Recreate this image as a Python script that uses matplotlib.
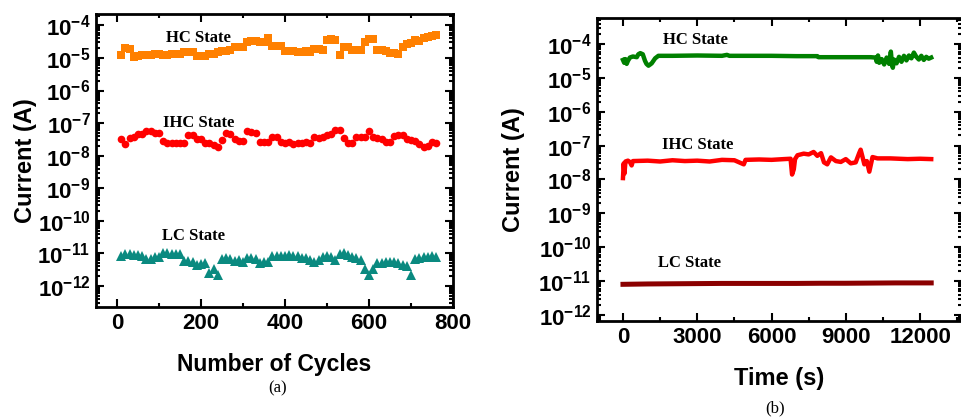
import numpy as np
import matplotlib
matplotlib.use("Agg")
import matplotlib.pyplot as plt
from matplotlib.ticker import LogLocator, MultipleLocator, NullFormatter

plt.rcParams["font.family"] = ["Liberation Sans", "DejaVu Sans"]
plt.rcParams["font.weight"] = "bold"
plt.rcParams["axes.labelweight"] = "bold"
plt.rcParams["mathtext.default"] = "regular"

# ---- (a) endurance: current vs number of cycles ----
ciclos = np.arange(10, 770, 10)

corriente_hc = [
    1.2e-5, 2.0e-5, 1.9e-5, 1.1e-5, 1.15e-5, 1.2e-5, 1.25e-5, 1.25e-5, 1.3e-5, 1.3e-5,
    1.2e-5, 1.25e-5, 1.35e-5, 1.35e-5, 1.35e-5, 1.55e-5, 1.55e-5, 1.55e-5, 1.15e-5, 1.15e-5,
    1.15e-5, 1.3e-5, 1.35e-5, 1.55e-5, 1.6e-5, 1.6e-5, 1.8e-5, 2.2e-5, 2.2e-5, 2.2e-5,
    3.2e-5, 3.4e-5, 3.4e-5, 3.1e-5, 3.1e-5, 4.0e-5, 2.4e-5, 2.4e-5, 2.3e-5, 1.6e-5,
    1.6e-5, 1.6e-5, 1.55e-5, 1.55e-5, 1.6e-5, 1.55e-5, 1.85e-5, 1.85e-5, 1.8e-5, 3.6e-5,
    3.8e-5, 3.6e-5, 1.25e-5, 2.2e-5, 2.1e-5, 1.8e-5, 1.75e-5, 1.75e-5, 3.0e-5, 3.8e-5,
    3.8e-5, 1.7e-5, 1.7e-5, 1.65e-5, 1.45e-5, 1.4e-5, 1.35e-5, 2.2e-5, 2.7e-5, 2.8e-5,
    3.6e-5, 3.3e-5, 4.0e-5, 4.4e-5, 4.7e-5, 4.9e-5,
]

corriente_ihc = [
    3.2e-8, 2.3e-8, 3.4e-8, 3.6e-8, 4.5e-8, 4.6e-8, 5.8e-8, 5.6e-8, 5.0e-8, 5.0e-8,
    2.8e-8, 2.5e-8, 2.45e-8, 2.4e-8, 2.45e-8, 2.45e-8, 4.4e-8, 4.2e-8, 3.2e-8, 3.3e-8,
    2.5e-8, 2.4e-8, 2.1e-8, 1.85e-8, 3.0e-8, 4.8e-8, 4.5e-8, 3.2e-8, 2.8e-8, 2.75e-8,
    5.6e-8, 5.4e-8, 5.0e-8, 2.6e-8, 2.6e-8, 2.7e-8, 3.8e-8, 3.8e-8, 2.6e-8, 2.5e-8,
    2.6e-8, 2.3e-8, 2.4e-8, 2.5e-8, 2.6e-8, 2.4e-8, 3.6e-8, 3.4e-8, 3.6e-8, 4.2e-8,
    4.6e-8, 6.2e-8, 6.0e-8, 3.5e-8, 2.5e-8, 2.4e-8, 3.8e-8, 3.6e-8, 3.7e-8, 5.6e-8,
    3.6e-8, 3.5e-8, 3.3e-8, 2.7e-8, 2.6e-8, 4.0e-8, 4.4e-8, 4.2e-8, 3.2e-8, 3.0e-8,
    2.9e-8, 2.2e-8, 1.9e-8, 2.0e-8, 2.7e-8, 2.5e-8,
]

corriente_lc = [
    8.5e-12, 9.5e-12, 9.5e-12, 9.0e-12, 9.0e-12, 8.5e-12, 6.5e-12, 6.5e-12, 7.5e-12, 7.5e-12,
    1.0e-11, 1.0e-11, 9.5e-12, 9.5e-12, 9.5e-12, 5.8e-12, 5.8e-12, 5.5e-12, 4.5e-12, 4.8e-12,
    5.0e-12, 2.5e-12, 3.3e-12, 2.1e-12, 6.5e-12, 7.0e-12, 6.8e-12, 5.8e-12, 6.0e-12, 5.5e-12,
    7.0e-12, 7.0e-12, 6.5e-12, 5.2e-12, 5.5e-12, 5.5e-12, 8.0e-12, 8.5e-12, 8.5e-12, 8.5e-12,
    8.8e-12, 8.5e-12, 8.0e-12, 7.0e-12, 7.0e-12, 6.0e-12, 5.5e-12, 6.0e-12, 7.5e-12, 8.5e-12,
    7.5e-12, 6.0e-12, 9.5e-12, 1.0e-11, 9.0e-12, 7.5e-12, 7.0e-12, 6.0e-12, 3.3e-12, 2.1e-12,
    3.3e-12, 5.0e-12, 5.0e-12, 5.5e-12, 5.5e-12, 5.5e-12, 5.0e-12, 4.5e-12, 4.0e-12, 2.1e-12,
    6.5e-12, 7.0e-12, 7.5e-12, 7.5e-12, 8.0e-12, 7.5e-12,
]

# ---- (b) retention: current vs time ----
tiempo_hc = [
    0, 50, 100, 150, 200, 280, 400, 560, 620, 700, 800, 890, 950, 1030, 1100, 1160,
    1300, 1430, 2000, 3000, 4000, 4200, 4300, 5000, 6000, 7000, 7850, 7900, 9000,
    10000, 10200, 10250, 10300, 10350, 10450, 10550, 10650, 10750, 10820, 10870,
    10900, 10950, 11050, 11150, 11250, 11350, 11450, 11550, 11650, 11750, 11850,
    11950, 12050, 12150, 12250, 12350, 12450,
]
ret_hc = [
    3.4e-5, 2.8e-5, 3.6e-5, 2.6e-5, 3.2e-5, 4.0e-5, 4.3e-5, 4.1e-5, 5.0e-5, 5.4e-5,
    5.0e-5, 3.2e-5, 2.6e-5, 2.3e-5, 2.5e-5, 2.7e-5, 3.8e-5, 4.5e-5, 4.5e-5, 4.6e-5,
    4.5e-5, 4.8e-5, 4.5e-5, 4.5e-5, 4.5e-5, 4.4e-5, 4.4e-5, 4.1e-5, 4.1e-5, 4.1e-5,
    4.0e-5, 3.0e-5, 4.6e-5, 2.8e-5, 3.6e-5, 2.5e-5, 4.0e-5, 2.6e-5, 6.0e-5, 2.4e-5,
    2.0e-5, 3.5e-5, 2.7e-5, 4.2e-5, 3.0e-5, 4.5e-5, 3.3e-5, 4.6e-5, 3.8e-5, 5.6e-5,
    4.2e-5, 3.5e-5, 4.5e-5, 3.4e-5, 4.2e-5, 3.7e-5, 4.0e-5,
]

tiempo_ihc = [
    0, 30, 60, 100, 200, 280, 350, 400, 1000, 1500, 2000, 2500, 3000, 3500, 4000,
    4500, 4880, 4950, 5500, 6000, 6500, 6770, 6830, 6900, 6950, 7050, 7300, 7500,
    7700, 7850, 8000, 8120, 8250, 8400, 8600, 8800, 9000, 9200, 9400, 9540, 9600,
    9680, 9750, 9850, 9950, 10080, 10280, 10800, 11500, 12000, 12450,
]
ret_ihc = [
    1.1e-8, 3.0e-8, 1.5e-8, 3.4e-8, 3.6e-8, 3.3e-8, 2.6e-8, 3.5e-8, 3.6e-8, 3.4e-8,
    3.7e-8, 3.5e-8, 3.6e-8, 3.4e-8, 3.8e-8, 3.7e-8, 2.8e-8, 3.8e-8, 3.9e-8, 3.8e-8,
    4.0e-8, 4.1e-8, 1.4e-8, 2.0e-8, 4.0e-8, 5.2e-8, 5.8e-8, 5.5e-8, 6.5e-8, 5.0e-8,
    6.0e-8, 3.2e-8, 2.8e-8, 4.5e-8, 3.5e-8, 3.3e-8, 4.0e-8, 3.0e-8, 3.2e-8, 6.0e-8,
    7.6e-8, 4.5e-8, 2.8e-8, 3.5e-8, 1.7e-8, 4.6e-8, 4.2e-8, 4.2e-8, 4.0e-8, 4.1e-8,
    4.0e-8,
]

tiempo_lc = [0, 1000, 2000, 3000, 4000, 5000, 6000, 7000, 8000, 9000, 10000, 11000, 12000, 12450]
ret_lc = [8.0e-12, 8.2e-12, 8.3e-12, 8.4e-12, 8.5e-12, 8.5e-12, 8.5e-12, 8.5e-12,
          8.6e-12, 8.6e-12, 8.7e-12, 8.8e-12, 8.8e-12, 8.8e-12]


def formato_ejes(ax):
    ax.set_yscale("log")
    ax.yaxis.set_major_locator(LogLocator(base=10, numticks=30))
    ax.yaxis.set_minor_locator(LogLocator(base=10, subs=np.arange(2, 10), numticks=60))
    ax.yaxis.set_minor_formatter(NullFormatter())
    ax.tick_params(which="both", direction="in", top=True, right=True,
                   labelsize=16, width=1.5)
    ax.tick_params(which="major", length=6, pad=4)
    ax.tick_params(which="minor", length=3)
    for s in ax.spines.values():
        s.set_linewidth(2)


fig = plt.figure(figsize=(9.61, 4.18), dpi=100)

# panel (a)
ax1 = fig.add_axes([0.0999, 0.2656, 0.3715, 0.7009])
ax1.plot(ciclos, corriente_hc, "s", color="#ff8000", markersize=5.5, markeredgewidth=0)
ax1.plot(ciclos, corriente_ihc, "o", color="#ff0000", markersize=5.5, markeredgewidth=0)
ax1.plot(ciclos, corriente_lc, "^", color="#0a8a80", markersize=6.5, markeredgewidth=0)
formato_ejes(ax1)
ax1.set_xlim(-50, 800)
ax1.set_ylim(10**-12.65, 10**-3.65)
ax1.xaxis.set_major_locator(MultipleLocator(200))
ax1.xaxis.set_minor_locator(MultipleLocator(100))
ax1.set_xlabel("Number of Cycles", fontsize=16.5, labelpad=14)
ax1.set_ylabel("Current (A)", fontsize=17, labelpad=0)

estilo_nota = dict(family=["Liberation Serif"], fontweight="bold", fontsize=12,
                   ha="center", va="center")
ax1.text(193, 4e-5, "HC State", **estilo_nota)
ax1.text(195, 1e-7, "IHC State", **estilo_nota)
ax1.text(181, 3.4e-11, "LC State", **estilo_nota)

# panel (b)
ax2 = fig.add_axes([0.6212, 0.2321, 0.3800, 0.7248])
ax2.plot(tiempo_hc, ret_hc, "-", color="#008000", linewidth=3.2)
ax2.plot(tiempo_ihc, ret_ihc, "-", color="#ff0000", linewidth=3.2)
ax2.plot(tiempo_lc, ret_lc, "-", color="#8b0000", linewidth=3.6)
formato_ejes(ax2)
ax2.set_xlim(-1050, 13700)
ax2.set_ylim(10**-12.18, 10**-3.23)
ax2.xaxis.set_major_locator(MultipleLocator(3000))
ax2.xaxis.set_minor_locator(MultipleLocator(1500))
ax2.set_xlabel("Time (s)", fontsize=17, labelpad=14)
ax2.set_ylabel("Current (A)", fontsize=17, labelpad=10)
ax2.text(2919, 1.3e-4, "HC State", **estilo_nota)
ax2.text(3000, 1.05e-7, "IHC State", **estilo_nota)
ax2.text(2676, 3.5e-11, "LC State", **estilo_nota)

fig.text(278 / 961, 1 - 388 / 418, "(a)", family=["Liberation Serif"], fontweight="normal",
         fontsize=12, ha="center", va="center")
fig.text(775 / 961, 1 - 408 / 418, "(b)", family=["Liberation Serif"], fontweight="normal",
         fontsize=12, ha="center", va="center")

fig.savefig("out.png", dpi=100)
plt.close(fig)
